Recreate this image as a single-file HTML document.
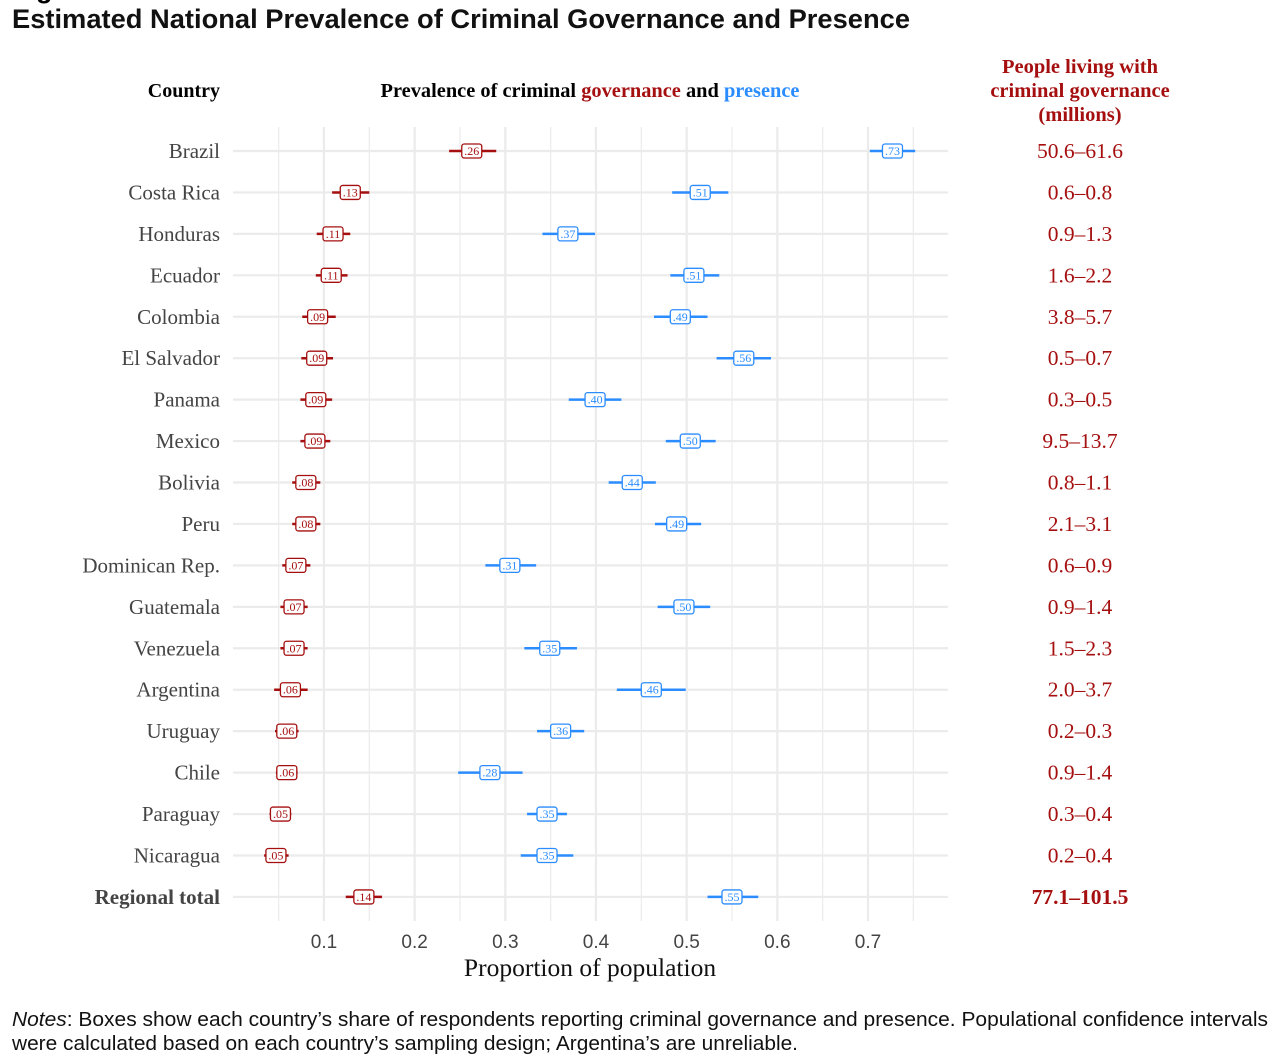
<!DOCTYPE html>
<html><head><meta charset="utf-8"><style>
body{margin:0;background:#fff;}
svg{display:block;}
</style></head><body>
<svg width="1286" height="1058" xmlns="http://www.w3.org/2000/svg">
<text x="12" y="-2" font-family="Liberation Sans, sans-serif" font-weight="bold" font-size="27">Figure</text>
<text x="12" y="28" font-family="Liberation Sans, sans-serif" font-weight="bold" font-size="27" fill="#111" textLength="898" lengthAdjust="spacingAndGlyphs">Estimated National Prevalence of Criminal Governance and Presence</text>
<text x="220" y="97" text-anchor="end" font-family="Liberation Serif, serif" font-weight="bold" font-size="20">Country</text>
<text x="590" y="97" text-anchor="middle" font-family="Liberation Serif, serif" font-weight="bold" font-size="20.4">Prevalence of criminal <tspan fill="#a50f0f">governance</tspan> and <tspan fill="#2b8cff">presence</tspan></text>
<g font-family="Liberation Serif, serif" font-weight="bold" font-size="20.5" fill="#a50f0f" text-anchor="middle">
<text x="1080" y="73">People living with</text>
<text x="1080" y="97">criminal governance</text>
<text x="1080" y="121">(millions)</text>
</g>
<g id="grid"></g>
<g id="marks"></g>
<g id="labels"></g>
<text x="590" y="976" text-anchor="middle" font-family="Liberation Serif, serif" font-size="25.5" fill="#111">Proportion of population</text>
<text x="12" y="1026" font-family="Liberation Sans, sans-serif" font-size="20.5" fill="#111" textLength="1256" lengthAdjust="spacingAndGlyphs"><tspan font-style="italic">Notes</tspan>: Boxes show each country’s share of respondents reporting criminal governance and presence. Populational confidence intervals</text>
<text x="12" y="1050" font-family="Liberation Sans, sans-serif" font-size="20.5" fill="#111" textLength="786" lengthAdjust="spacingAndGlyphs">were calculated based on each country’s sampling design; Argentina’s are unreliable.</text>
</svg>
<script>
const countries=["Brazil","Costa Rica","Honduras","Ecuador","Colombia","El Salvador","Panama","Mexico","Bolivia","Peru","Dominican Rep.","Guatemala","Venezuela","Argentina","Uruguay","Chile","Paraguay","Nicaragua","Regional total"];
const govLabels=[".26",".13",".11",".11",".09",".09",".09",".09",".08",".08",".07",".07",".07",".06",".06",".06",".05",".05",".14"];
const govVal=[.263,.129,.110,.108,.093,.092,.091,.090,.080,.080,.069,.067,.067,.063,.059,.059,.052,.047,.144];
const govLo=[.238,.109,.092,.091,.076,.075,.074,.074,.065,.065,.054,.052,.052,.045,.046,.047,.040,.034,.124];
const govHi=[.290,.150,.129,.126,.113,.110,.109,.107,.096,.096,.085,.082,.082,.082,.072,.071,.064,.061,.164];
const presLabels=[".73",".51",".37",".51",".49",".56",".40",".50",".44",".49",".31",".50",".35",".46",".36",".28",".35",".35",".55"];
const presVal=[.727,.515,.369,.508,.493,.563,.399,.504,.440,.489,.305,.497,.349,.461,.361,.283,.346,.346,.550];
const presLo=[.702,.484,.341,.482,.464,.533,.370,.477,.414,.465,.278,.468,.321,.423,.335,.248,.324,.317,.523];
const presHi=[.752,.546,.399,.536,.523,.593,.428,.532,.466,.516,.334,.526,.379,.499,.387,.319,.368,.375,.579];
const people=["50.6–61.6","0.6–0.8","0.9–1.3","1.6–2.2","3.8–5.7","0.5–0.7","0.3–0.5","9.5–13.7","0.8–1.1","2.1–3.1","0.6–0.9","0.9–1.4","1.5–2.3","2.0–3.7","0.2–0.3","0.9–1.4","0.3–0.4","0.2–0.4","77.1–101.5"];
const xTicks=[0.1,0.2,0.3,0.4,0.5,0.6,0.7];
const NS="http://www.w3.org/2000/svg";
const X=v=>233.3+v*906.7;
const Y=i=>151+i*41.44;
function mk(tag,attrs,parent,text){const e=document.createElementNS(NS,tag);for(const k in attrs)e.setAttribute(k,attrs[k]);if(text!==undefined)e.textContent=text;parent.appendChild(e);return e;}
const grid=document.getElementById('grid'),marks=document.getElementById('marks'),labels=document.getElementById('labels');
for(let v=0.05;v<=0.76;v+=0.05){const major=Math.abs(v*10-Math.round(v*10))<1e-6;
const l=mk('line',{x1:X(v),x2:X(v),y1:127,y2:921,stroke:'#ebebeb','stroke-width':major?2.2:1.2},grid);

}
xTicks.forEach(t=>{const e=mk('text',{x:X(t),y:948,'text-anchor':'middle','font-family':'Liberation Sans, sans-serif','font-size':19,fill:'#444'},labels,String(t));

});
countries.forEach((c,i)=>{const y=Y(i);const last=i===countries.length-1;
const g=mk('line',{x1:233,x2:948,y1:y,y2:y,stroke:'#ebebeb','stroke-width':2.2},grid);


const t=mk('text',{x:220,y:y+7,'text-anchor':'end','font-family':'Liberation Serif, serif','font-size':21,fill:'#444','font-weight':last?'bold':'normal'},labels,c);


const p=mk('text',{x:1080,y:y+7,'text-anchor':'middle','font-family':'Liberation Serif, serif','font-size':21.5,fill:'#a50f0f','font-weight':last?'bold':'normal'},labels,people[i]);


[[govVal,govLo,govHi,govLabels,'#a50f0f','governance'],[presVal,presLo,presHi,presLabels,'#2b8cff','presence']].forEach(([V,L,H,Lb,col,nm])=>{
const ci=mk('line',{x1:X(L[i]),x2:X(H[i]),y1:y,y2:y,stroke:col,'stroke-width':2.5},marks);


const r=mk('rect',{x:X(V[i])-10,y:y-7,width:20,height:14,rx:2.5,fill:'#fff',stroke:col,'stroke-width':1.3},marks);


const tx=mk('text',{x:X(V[i]),y:y+4,'text-anchor':'middle','font-family':'Liberation Serif, serif','font-size':12,fill:col},marks,Lb[i]);


});});
</script>
</body></html>
